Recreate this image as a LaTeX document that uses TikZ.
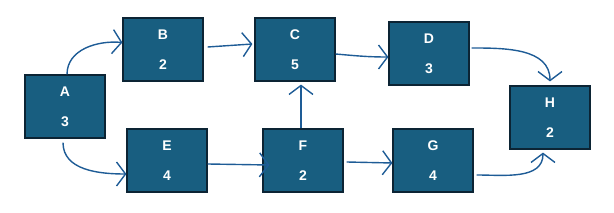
\documentclass[tikz,border=0pt]{standalone}
\usepackage{fontspec}
\setmainfont{Liberation Sans}
\usepackage{tikz}
\usetikzlibrary{arrows.meta}
\definecolor{boxfill}{RGB}{24,94,128}
\definecolor{boxline}{RGB}{12,36,52}
\definecolor{arrowline}{RGB}{30,92,150}
\tikzstyle{task} = [
    rectangle,
    minimum width=80pt,
    minimum height=63pt,
    draw=boxline,
    line width=1.2pt,
    fill=boxfill,
    text=white,
    align=center,
    font=\bfseries\fontsize{14}{17}\selectfont
]
\tikzstyle{arrow} = [
    draw=arrowline,
    line width=1.4pt,
    -{Straight Barb[length=9pt,width=24pt]}
]

\begin{document}
\begin{tikzpicture}[x=1pt, y=-1pt]

\useasboundingbox (0,0) rectangle (614,213);

\node (a) [task] at (65,106.5) {A\\[13pt]3};
\node (b) [task] at (163,49.5) {B\\[13pt]2};
\node (c) [task] at (295,49.5) {C\\[13pt]5};
\node (d) [task] at (429,53.5) {D\\[13pt]3};
\node (e) [task] at (167,160.5) {E\\[13pt]4};
\node (f) [task] at (303,160.5) {F\\[13pt]2};
\node (g) [task] at (433,160.5) {G\\[13pt]4};
\node (h) [task] at (550,117.5) {H\\[13pt]2};

\draw [arrow] ([xshift=2pt]a.north) to[out=90,in=175] ([yshift=7pt]b.west);
\draw [arrow] ([xshift=4pt,yshift=2.5pt]b.east) -- ([xshift=-2pt,yshift=5.5pt]c.west);
\draw [arrow] ([yshift=-4.5pt]c.east) to[out=-5,in=180] ([yshift=-3.5pt]d.west);
\draw [arrow] ([xshift=2pt,yshift=5.5pt]d.east) to[out=0,in=90] ([yshift=4pt]h.north);
\draw [arrow] ([xshift=-2pt,yshift=-4pt]a.south) to[out=-90,in=180] ([yshift=-13.5pt]e.west);
\draw [arrow] ([yshift=-3.5pt]e.east) -- ([xshift=7pt,yshift=-4.5pt]f.west);
\draw [arrow] ([xshift=-2pt]f.north) -- ([xshift=-2pt,yshift=-3pt]f.north |- c.south);
\draw [arrow] ([xshift=3pt,yshift=-1.5pt]f.east) -- ([yshift=-2.5pt]g.west);
\draw [arrow] ([xshift=3pt,yshift=-14.5pt]g.east) to[out=0,in=-90] ([xshift=-7pt,yshift=-3pt]h.south);

\end{tikzpicture}
\end{document}
